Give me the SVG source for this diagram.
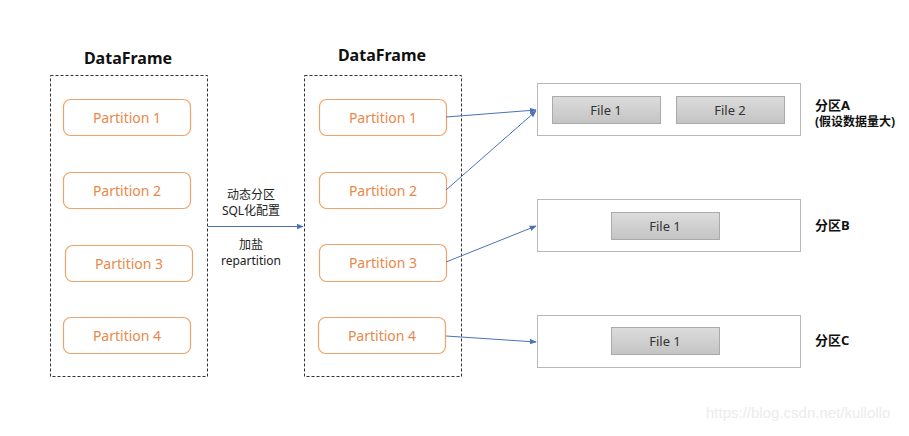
<svg xmlns="http://www.w3.org/2000/svg" width="909" height="436" viewBox="0 0 909 436">
<defs>
<linearGradient id="fg" x1="0" y1="0" x2="0" y2="1">
<stop offset="0" stop-color="#dcdcdc"/>
<stop offset="1" stop-color="#c4c4c4"/>
</linearGradient>
<marker id="ah" viewBox="0 0 10 10" refX="9" refY="5" markerWidth="7" markerHeight="7" orient="auto" markerUnits="userSpaceOnUse">
<path d="M0,1 L10,5 L0,9 z" fill="#4a72b8"/>
</marker>
<style>
text{font-family:"Noto Sans","Liberation Sans","Noto Sans CJK SC",sans-serif;}
.df{fill:none;stroke:#333;stroke-width:1;stroke-dasharray:3,2;}
.part rect{fill:#fff;stroke:#eea36a;stroke-width:1.2;}
.part text{fill:#e8894a;font-size:14px;text-anchor:middle;}
.title{font-size:16px;font-weight:bold;fill:#111;text-anchor:middle;}
.outer{fill:#fff;stroke:#b8b8b8;stroke-width:1;}
.file rect{fill:url(#fg);stroke:#aaa;stroke-width:1;}
.file text{fill:#333;font-size:13px;text-anchor:middle;}
.lbl{font-size:12px;fill:#222;text-anchor:middle;}
.plbl{font-size:13px;font-weight:bold;fill:#111;}
.conn line{stroke:#4a72b8;stroke-width:1;marker-end:url(#ah);}
</style>
</defs>
<rect width="909" height="436" fill="#fff"/>

<g id="df-left">
<text class="title" x="128" y="64">DataFrame</text>
<rect class="df" x="50.5" y="75.5" width="157" height="301"/>
</g>
<g id="df-mid">
<text class="title" x="382" y="61">DataFrame</text>
<rect class="df" x="304.5" y="75.5" width="157" height="301"/>
</g>

<g id="l-p1" class="part"><rect x="63.5" y="99.5" width="127" height="36" rx="7"/><text x="127" y="122.5">Partition 1</text></g>
<g id="l-p2" class="part"><rect x="63.5" y="172.5" width="127" height="36" rx="7"/><text x="127" y="195.5">Partition 2</text></g>
<g id="l-p3" class="part"><rect x="65.5" y="245.5" width="127" height="36" rx="7"/><text x="129" y="268.5">Partition 3</text></g>
<g id="l-p4" class="part"><rect x="63.5" y="317.5" width="127" height="36" rx="7"/><text x="127" y="340.5">Partition 4</text></g>

<g id="m-p1" class="part"><rect x="319.5" y="99.5" width="127" height="36" rx="7"/><text x="383" y="122.5">Partition 1</text></g>
<g id="m-p2" class="part"><rect x="319.5" y="172.5" width="127" height="36" rx="7"/><text x="383" y="195.5">Partition 2</text></g>
<g id="m-p3" class="part"><rect x="319.5" y="244.5" width="127" height="37" rx="7"/><text x="383" y="268">Partition 3</text></g>
<g id="m-p4" class="part"><rect x="318.5" y="317.5" width="127" height="36" rx="7"/><text x="382" y="340.5">Partition 4</text></g>

<g id="label-mid">
<text class="lbl" x="251" y="199">动态分区</text>
<text class="lbl" x="251" y="215">SQL化配置</text>
<text class="lbl" x="251" y="249">加盐</text>
<text class="lbl" x="251" y="265">repartition</text>
</g>

<g id="part-A">
<rect class="outer" x="537.5" y="83.5" width="263" height="52"/>
<g class="file"><rect x="552.5" y="96.5" width="108" height="27"/><text x="606" y="114.5">File 1</text></g>
<g class="file"><rect x="676.5" y="96.5" width="108" height="27"/><text x="730" y="114.5">File 2</text></g>
<text class="plbl" x="815" y="110">分区A</text>
<text class="plbl" x="815" y="126" style="font-size:12px">(假设数据量大)</text>
</g>
<g id="part-B">
<rect class="outer" x="537.5" y="199.5" width="263" height="52"/>
<g class="file"><rect x="611.5" y="212.5" width="108" height="27"/><text x="665" y="230.5">File 1</text></g>
<text class="plbl" x="815" y="230">分区B</text>
</g>
<g id="part-C">
<rect class="outer" x="537.5" y="315.5" width="263" height="52"/>
<g class="file"><rect x="611.5" y="327.5" width="108" height="27"/><text x="665" y="345.5">File 1</text></g>
<text class="plbl" x="815" y="345">分区C</text>
</g>

<g id="connectors" class="conn">
<line x1="208" y1="226.5" x2="303" y2="226.5"/>
<line x1="446" y1="117" x2="536" y2="110"/>
<line x1="446" y1="190" x2="536" y2="111"/>
<line x1="446" y1="262" x2="536" y2="226"/>
<line x1="446" y1="336" x2="536" y2="342"/>
</g>

<text x="706" y="418" style="font-size:15px;fill:#ececec;font-family:'Liberation Sans',sans-serif">https://blog.csdn.net/kullollo</text>
</svg>
